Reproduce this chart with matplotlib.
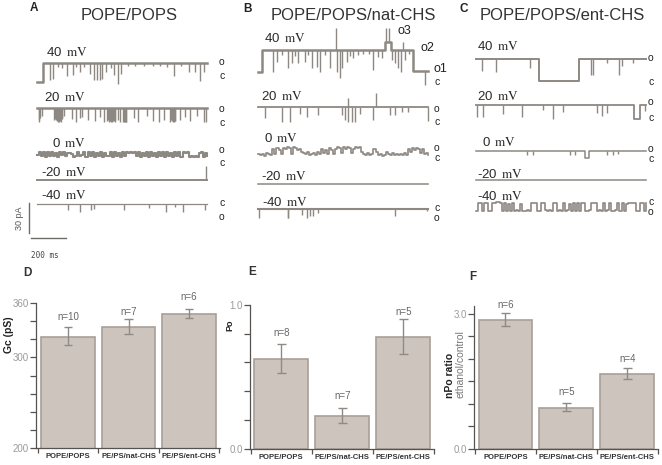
import numpy as np
import matplotlib
matplotlib.use("Agg")
import matplotlib.pyplot as plt

plt.rcParams['font.family'] = ['Liberation Sans', 'DejaVu Sans']
plt.rcParams['mathtext.fontset'] = 'stix'

W, H = 662, 465
TRACE_C = '#8d8882'
BAR_C = '#cdc4bd'
EDGE_C = '#a8a098'
ERR_C = '#8f8a85'
AXIS_C = '#555250'
TICK_TXT = '#9a9a9a'

# traces: times in ms, amplitudes in pA (spike depth below the level, negative = upward)
a40_break = [0, 34, 970]
a40_level = [-19, 0, 0]
a40_t = [72, 90, 120, 145, 171, 206, 225, 244, 270, 305, 328, 343, 358, 371, 396, 420, 438, 461, 480, 520, 560, 610,
         660, 700, 745, 781, 820, 867, 905, 930, 952]
a40_d = [17, 16, 4, 5, 13, 12, 4, 9, 4, 11, 17, 17, 17, 16, 9, 5, 12, 21, 11, 3, 3, 3,
         3, 3, 4, 13, 3, 9, 9, 18, 9]

a20_t = [10, 14, 19, 29, 95, 100, 105, 110, 114, 119, 124, 130, 134, 137, 141, 145, 152, 200, 225, 248, 257, 290, 333,
         362, 385, 400, 405, 410, 415, 419, 424, 429, 434, 438, 443, 448, 461, 476, 491, 495, 499, 503, 507, 510,
         552, 575, 629, 663, 695, 724, 762, 767, 772, 776, 781, 786, 791, 819, 848, 876, 914, 956, 968]
a20_d = [14, 12, 10, 8, 12, 11, 10, 12, 13, 14, 14, 12, 13, 14, 11, 10, 8, 11, 14, 10, 9, 12, 13,
         9, 14, 13, 12, 14, 13, 13, 14, 14, 13, 13, 12, 14, 12, 14, 14, 13, 14, 14, 14, 14,
         10, 14, 8, 13, 14, 12, 14, 12, 13, 14, 14, 13, 13, 12, 9, 13, 8, 14, 14]

a0_v = [3, 6, 2, 6, 1, 6, 2, 6, 2, 5, 1, 6, 3, 6, 2, 5, 5, 4, 1, 2, 6, 2, 3, 6, 1, 6, 2, 6, 1, 5, 2, 6, 1, 5, 2, 2,
        6, 1, 6, 2, 5, 1, 6, 2, 6, 5, 6, 5, 6, 2, 6, 1, 5, 2, 6, 1, 6, 2, 5, 1, 6, 2, 6, 1, 6, 2, 5, 1, 6, 2, 6, 1,
        6, 5, 6, 1, 2, 1, 2, 1, 5, 6, 1, 5, 2]
am20_break = [0, 970]
am20_level = [0, 0]
am20_t = [964]
am20_d = [-14]
am40_t = [177, 244, 309, 328, 499, 638, 737, 791, 832, 962]
am40_d = [6, 8, 6, 5, 6, 4, 8, 3, 8, 6]

b40_break = [0, 23, 724, 758, 884, 970]
b40_level = [-22, 0, 8, 0, -21, -21]
b40_t = [86, 105, 135, 168, 190, 210, 229, 267, 285, 305, 333, 352, 380, 410, 442, 448, 467, 480, 505, 525, 543, 570,
         600, 630, 657, 686, 705, 728, 747, 762, 781, 800, 813, 825, 838, 860, 952]
b40_d = [22, 12, 5, 18, 13, 6, 13, 12, 5, 18, 17, 22, 5, 18, -22, 22, 28, 18, 12, 6, 8, 5,
         4, 4, 20, 7, 8, -14, -14, 10, 13, 18, 22, -8, 10, 4, 14]
b20_t = [38, 133, 181, 238, 276, 339, 476, 495, 511, 514, 533, 552, 581, 657, 672, 752, 781, 819, 857, 968]
b20_d = [11, 15, 15, 7, 10, 8, 8, 13, -9, 15, 15, 15, 7, 13, -14, 8, 8, 5, 5, 14]
b0_v = [3, 2, 3, 1, 4, 3, 2, 8, 3, 9, 7, 3, 9, 8, 10, 9, 3, 10, 9, 7, 8, 5, 4, 3, 5, 2, 3, 4, 2, 5, 3, 8, 4, 7, 3,
        9, 7, 3, 8, 10, 9, 4, 10, 8, 10, 9, 4, 8, 10, 9, 10, 5, 3, 2, 4, 2, 3, 8, 5, 2, 3, 1, 2, 5, 3, 2, 4, 2, 3,
        2, 3, 2, 4, 2, 8, 5, 9, 7, 9, 8, 4, 8, 3, 4, 2]
bm40_t = [4, 168, 171, 248, 276, 295, 314, 343, 781, 962]
bm40_d = [9, 9, 9, 6, 9, 7, 7, 4, 7, 2]

c40_break = [0, 362, 590, 970]
c40_level = [0, -22, 0, 0]
c40_t = [32, 114, 309, 655, 667, 747, 817, 832, 899]
c40_d = [12, 13, 9, 16, 16, 4, 16, 7, 4]
c20_break = [0, 903, 937, 970]
c20_level = [0, -14, 0, 0]
c20_t = [4, 42, 156, 261, 385, 442, 495, 690, 718, 747, 966]
c20_d = [12, 12, 9, 12, 5, 14, 7, 8, 11, 8, 6]
c0_break = [0, 623, 648, 970]
c0_level = [0, -7, 0, 0]
c0_t = [290, 328, 537, 566, 747, 785, 813]
c0_d = [4, 4, 4, 4, 4, 4, 3]
cm40_v = [9, 1, 1, 9, 1, 1, 9, 9, 1, 1, 0, 0, 1, 9, 1, 9, 2, 9, 1, 9, 8, 9, 2, 9, 9, 8, 9, 1, 1, 1, 9, 9, 1, 1, 8,
          9, 8, 9, 1, 1, 9, 8, 9, 1, 9, 8, 2, 9, 1, 9, 1, 9, 1, 1, 9, 9, 8, 1, 1, 1, 9, 8, 9, 1, 9, 8, 1, 9, 9, 8,
          1, 9, 1, 9, 2, 1, 1, 1, 1, 9, 9, 1, 1, 9, 1]

# bar charts
groups = ['POPE/POPS', 'PE/PS/nat-CHS', 'PE/PS/ent-CHS']
gc_vals = [322.7, 333.8, 347.8]
gc_low = [313.4, 326.0, 343.4]
gc_high = [333.4, 342.6, 353.7]
gc_n = ['n=10', 'n=7', 'n=6']
gc_n_y = [345.2, 350, 367.4]
po_vals = [0.624, 0.225, 0.775]
po_low = [0.529, 0.179, 0.659]
po_high = [0.729, 0.281, 0.900]
po_n = ['n=8', 'n=7', 'n=5']
po_n_y = [0.805, 0.369, 0.949]
npo_vals = [2.859, 0.919, 1.667]
npo_low = [2.726, 0.852, 1.548]
npo_high = [3.020, 1.022, 1.793]
npo_n = ['n=6', 'n=5', 'n=4']
npo_n_y = [3.20, 1.274, 2.00]

fig = plt.figure(figsize=(W / 100, H / 100), dpi=100, facecolor='white')

# overlay for the recordings: 200 ms = 35 px, 30 pA = 30 px
tr = fig.add_axes([0, 0, 1, 1])
tr.set_xlim(0, W / 0.175)
tr.set_ylim(-H, 0)
tr.axis('off')


def spikes(x0, y0, t, d, brk=(0, 970), lev=(0, 0), lw=1.8):
    t = np.array(t, float)
    d = np.array(d, float)
    brk = np.array(brk, float)
    lev = np.array(lev, float)
    xs = x0 / 0.175
    tr.plot(xs + brk, lev - y0, drawstyle='steps-post', color=TRACE_C, lw=lw)
    base = lev[np.searchsorted(brk, t, side='right') - 1]
    tr.vlines(xs + t, base - y0, base - d - y0, color=TRACE_C, lw=1.0)


def sampled(x0, y0, v, sign=1, lw=1.2):
    t = np.linspace(0, 970, len(v))
    tr.plot(x0 / 0.175 + t, sign * np.array(v, float) - y0, drawstyle='steps-post', color=TRACE_C, lw=lw)


spikes(37, 62.7, a40_t, a40_d, a40_break, a40_level)
spikes(37, 108.3, a20_t, a20_d)
sampled(37, 158, a0_v, lw=1.5)
spikes(37, 180.3, am20_t, am20_d, am20_break, am20_level, lw=1.4)
spikes(37, 204.3, am40_t, am40_d, lw=0.9)

spikes(258.3, 50, b40_t, b40_d, b40_break, b40_level)
spikes(258.3, 106.7, b20_t, b20_d, lw=1.3)
sampled(258.3, 157.5, b0_v)
spikes(258.3, 184, [], [], lw=1.1)
spikes(258.3, 209.3, bm40_t, bm40_d, lw=1.5)

spikes(476, 59.3, c40_t, c40_d, c40_break, c40_level, lw=1.4)
spikes(476, 105.3, c20_t, c20_d, c20_break, c20_level, lw=1.3)
spikes(476, 150.7, c0_t, c0_d, c0_break, c0_level, lw=1.1)
spikes(476, 180.3, [], [], lw=1.1)
sampled(476, 201.7, cm40_v, -1)

# scale bars
tr.plot([30.7 / 0.175, 30.7 / 0.175 + 200], [-238.3, -238.3], color='#6f6c68', lw=1.0)
tr.plot([29 / 0.175, 29 / 0.175], [-233.3, -233.3 + 30], color='#6f6c68', lw=1.0)


def txt(x, y, s, **kw):
    kw.setdefault('ha', 'left')
    kw.setdefault('va', 'center')
    fig.text(x / W, 1 - y / H, s, **kw)


txt(19.3, 218, '30 pA', rotation=90, ha='center', fontsize=6.5, color='#555555')
txt(31, 255, '200 ms', fontsize=5.5, family='DejaVu Sans Mono', color='#444444')

for x, y, s in [(30, 8, 'A'), (243, 9, 'B'), (460, 9, 'C')]:
    txt(x, y, s, fontsize=8.5, fontweight='bold', color='#222222')
for x, y, s in [(81, 15, 'POPE/POPS'), (271, 15, 'POPE/POPS/nat-CHS'), (480, 15, 'POPE/POPS/ent-CHS')]:
    txt(x, y, s, fontsize=12, color='#333333')

mv_labels = [(46, 52.7, '40'), (44, 97.7, '20'), (52.3, 143.3, '0'), (40.7, 172, '-20'), (40.7, 195, '-40'),
             (264, 38.3, '40'), (261, 96.7, '20'), (264.3, 138.3, '0'), (261, 176.7, '-20'), (261.7, 202.7, '-40'),
             (476.7, 47, '40'), (477, 97, '20'), (481.7, 142, '0'), (477, 174, '-20'), (477, 197, '-40')]
for x, y, s in mv_labels:
    txt(x, y, s + r' $\,\mathrm{mV}$', fontsize=9.5, color='#2a2a2a')

state_labels = [(221.7, 62.3, 'o'), (221.7, 75.7, 'c'), (221.7, 109.3, 'o'), (221.7, 122.7, 'c'),
                (221.7, 150, 'o'), (221.7, 163, 'c'), (221.7, 202.7, 'c'), (221.7, 216.7, 'o'),
                (436.7, 82.3, 'c'), (436.7, 109, 'o'), (436.7, 122.3, 'c'),
                (436.7, 148.3, 'o'), (436.7, 158.3, 'c'), (436.7, 208.3, 'c'), (436.7, 218.3, 'o'),
                (650.7, 57.7, 'o'), (650.7, 82.3, 'c'), (650.7, 102.3, 'o'), (650.7, 118.3, 'c'),
                (650.7, 149, 'o'), (650.7, 159, 'c'), (650.7, 201.7, 'c'), (650.7, 211.7, 'o')]
for x, y, s in state_labels:
    txt(x, y, s, ha='center', fontsize=7.5, color='#222222')
for x, y, s in [(398, 31, 'o3'), (420, 48.3, 'o2'), (433, 69, 'o1')]:
    txt(x, y, s, fontsize=9, color='#222222')

for x, y, s in [(23, 273, 'D'), (248, 272, 'E'), (469, 277, 'F')]:
    txt(x, y, s, fontsize=8.5, fontweight='bold', color='#333333')


def bars(rect, ylim, xlim, ticks, labels, vals, low, high, n, n_y):
    left, top, right, bottom = rect
    ax = fig.add_axes([left / W, 1 - bottom / H, (right - left) / W, (bottom - top) / H])
    ax.patch.set_alpha(0)
    x = np.arange(3)
    ax.bar(x, vals, width=0.885, color=BAR_C, edgecolor=EDGE_C, linewidth=1.2)
    ax.vlines(x, low, high, color=ERR_C, lw=1.0)
    for i in x:
        ax.hlines([low[i], high[i]], i - 0.07, i + 0.07, color=ERR_C, lw=1.0)
        ax.text(i, n_y[i], n[i], ha='center', va='center', fontsize=7, color='#666666')
    ax.set_xlim(xlim)
    ax.set_ylim(ylim)
    ax.spines[['top', 'right']].set_visible(False)
    ax.spines[['left', 'bottom']].set_color(AXIS_C)
    ax.spines[['left', 'bottom']].set_linewidth(0.9)
    ax.set_yticks(ticks)
    ax.set_yticklabels(labels, fontsize=7, color=TICK_TXT)
    ax.tick_params(axis='y', length=4.5, width=0.9, color=AXIS_C, pad=0.5)
    ax.set_xticks([-0.5, 0.5, 1.5, 2.5])
    ax.set_xticklabels([])
    ax.tick_params(axis='x', length=3.5, width=0.9, color=AXIS_C)
    for i in x:
        ax.text(i, -0.036, groups[i], transform=ax.get_xaxis_transform(), ha='center', va='top',
                fontsize=5.5, fontweight='bold', color='#333333')
    return ax


bars((36, 303.3, 220, 447.7), (200, 360), (-0.529, 2.51), np.arange(200, 361, 20),
     ['200', '', '', '', '', '300', '', '', '360'], gc_vals, gc_low, gc_high, gc_n, gc_n_y)
bars((250, 305, 434, 448.7), (0, 1), (-0.513, 2.503), np.arange(0, 1.01, 0.2),
     ['0.0', '', '', '', '', '1.0'], po_vals, po_low, po_high, po_n, po_n_y)
bars((474, 305.7, 658, 449), (0, 3.18), (-0.517, 2.504), np.arange(0, 3.01, 0.5),
     ['0.0', '', '', '', '', '', '3.0'], npo_vals, npo_low, npo_high, npo_n, npo_n_y)

txt(8.5, 335, 'Gc (pS)', rotation=90, ha='center', fontsize=7.5, fontweight='bold', color='#222222')
txt(229.7, 325, 'Po', rotation=90, ha='center', fontsize=6.5, fontweight='bold', color='#222222')
txt(449.7, 397.7, 'nPo ratio', rotation=90, ha='center', va='bottom', fontsize=7.5, fontweight='bold', color='#222222')
txt(460, 397.7, 'ethanol/control', rotation=90, ha='center', va='bottom', fontsize=7.5, color='#777777')

fig.savefig('out.png', dpi=100)
